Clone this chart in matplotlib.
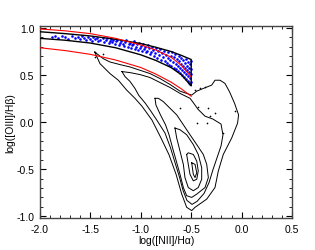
import matplotlib
matplotlib.use('Agg')
import matplotlib.pyplot as plt
from matplotlib.ticker import MultipleLocator, FormatStrFormatter

plt.rcParams['font.family'] = ['Liberation Sans', 'DejaVu Sans']
plt.rcParams['axes.unicode_minus'] = True

# demarcation curves
curve_x = [-2.0, -1.75, -1.5, -1.25, -1.0, -0.85, -0.7, -0.6, -0.5]
upper_black = [0.96, 0.94, 0.915, 0.88, 0.835, 0.795, 0.75, 0.71, 0.665]
lower_black = [0.89, 0.87, 0.84, 0.79, 0.715, 0.655, 0.58, 0.505, 0.385]
upper_red = [0.99, 0.97, 0.94, 0.89, 0.82, 0.765, 0.69, 0.605, 0.48]
lower_red = [0.79, 0.76, 0.72, 0.66, 0.58, 0.51, 0.425, 0.355, 0.275]

# selected objects inside the band
blue_x = [-1.88, -1.85, -1.82, -1.78, -1.75, -1.72, -1.68, -1.65, -1.62, -1.60, -1.58, -1.56,
          -1.54, -1.52, -1.50, -1.48, -1.47, -1.45, -1.43, -1.42, -1.40, -1.38, -1.37, -1.35,
          -1.34, -1.32, -1.31, -1.30, -1.29, -1.28,
          -1.26, -1.25, -1.24, -1.22, -1.21, -1.20, -1.18, -1.17, -1.16, -1.15, -1.13, -1.12,
          -1.11, -1.10, -1.09, -1.08, -1.07, -1.06, -1.05, -1.04, -1.03, -1.02, -1.01, -1.00,
          -0.99, -0.98,
          -0.97, -0.96, -0.95, -0.94, -0.93, -0.92, -0.91, -0.90, -0.89, -0.88, -0.87, -0.86,
          -0.85, -0.84, -0.83, -0.82, -0.81, -0.80, -0.79, -0.78, -0.77, -0.76, -0.75,
          -0.74, -0.73, -0.73, -0.72, -0.71, -0.70, -0.70, -0.69, -0.68, -0.67, -0.67, -0.66,
          -0.65, -0.65, -0.64, -0.63, -0.63, -0.62, -0.62, -0.61, -0.61, -0.60, -0.60, -0.59,
          -0.59, -0.58, -0.58, -0.57, -0.57, -0.56, -0.56, -0.55, -0.55, -0.55, -0.54, -0.54,
          -0.53, -0.53, -0.53, -0.52, -0.52, -0.52, -0.51, -0.51, -0.51, -0.50, -0.50, -0.50,
          -0.50]
blue_y = [0.90, 0.91, 0.895, 0.915, 0.90, 0.885, 0.91, 0.895, 0.905, 0.88, 0.91, 0.89,
          0.875, 0.90, 0.885, 0.865, 0.905, 0.88, 0.895, 0.86, 0.875, 0.89, 0.85, 0.87,
          0.89, 0.84, 0.865, 0.88, 0.85, 0.87,
          0.835, 0.86, 0.875, 0.82, 0.845, 0.865, 0.83, 0.81, 0.85, 0.87, 0.80, 0.825,
          0.845, 0.79, 0.815, 0.835, 0.86, 0.78, 0.80, 0.825, 0.77, 0.845, 0.79, 0.81,
          0.76, 0.835,
          0.775, 0.80, 0.74, 0.76, 0.82, 0.785, 0.72, 0.75, 0.80, 0.77, 0.70, 0.73,
          0.79, 0.68, 0.755, 0.71, 0.78, 0.665, 0.735, 0.69, 0.76, 0.65, 0.715,
          0.63, 0.68, 0.74, 0.61, 0.66, 0.70, 0.60, 0.75, 0.64, 0.58, 0.69, 0.72,
          0.56, 0.62, 0.67, 0.54, 0.60, 0.70, 0.65, 0.52, 0.58, 0.62, 0.68, 0.50,
          0.55, 0.60, 0.66, 0.48, 0.53, 0.58, 0.63, 0.46, 0.51, 0.67, 0.55, 0.60,
          0.44, 0.49, 0.64, 0.42, 0.53, 0.58, 0.40, 0.47, 0.62, 0.43, 0.51, 0.56,
          0.65]

# density contours of the galaxy sample, outermost first
c1_x = [-1.457, -1.405, -1.306, -1.223, -1.140, -1.060, -0.988, -0.889, -0.800, -0.720,
        -0.650, -0.594, -0.545, -0.495, -0.462, -0.346, -0.264, -0.231, -0.182, -0.098,
        -0.040, -0.030, -0.070, -0.120, -0.165, -0.214, -0.264, -0.297, -0.363, -0.445,
        -0.495, -0.611, -0.710, -0.810, -0.909, -1.008, -1.107, -1.206, -1.306, -1.372,
        -1.457]
c1_y = [0.744, 0.621, 0.516, 0.445, 0.340, 0.255, 0.168, 0.021, -0.168, -0.347,
        -0.555, -0.765, -0.905, -0.940, -0.905, -0.818, -0.695, -0.519, -0.344, -0.168,
        -0.011, 0.077, 0.200, 0.323, 0.411, 0.445, 0.445, 0.393, 0.365, 0.329,
        0.287, 0.329, 0.400, 0.463, 0.516, 0.551, 0.586, 0.611, 0.639, 0.674,
        0.744]
c2_x = [-1.187, -1.157, -1.107, -1.058, -1.020, -0.955, -0.900, -0.835, -0.760, -0.705,
        -0.660, -0.615, -0.581, -0.542, -0.492, -0.442, -0.373, -0.323, -0.284, -0.244,
        -0.204, -0.185, -0.204, -0.284, -0.363, -0.433, -0.482, -0.512, -0.611, -0.710,
        -0.810, -0.909, -1.008, -1.107, -1.187]
c2_y = [0.537, 0.484, 0.432, 0.358, 0.284, 0.200, 0.116, 0.011, -0.116, -0.274,
        -0.432, -0.589, -0.726, -0.832, -0.874, -0.842, -0.758, -0.642, -0.505, -0.379,
        -0.253, -0.137, -0.021, 0.032, 0.063, 0.137, 0.211, 0.253, 0.305, 0.368,
        0.421, 0.474, 0.505, 0.526, 0.537]
c3_x = [-0.859, -0.850, -0.805, -0.755, -0.720, -0.685, -0.648, -0.611, -0.578, -0.545,
        -0.495, -0.445, -0.363, -0.330, -0.346, -0.380, -0.445, -0.512, -0.578, -0.644,
        -0.710, -0.777, -0.826, -0.859]
c3_y = [0.253, 0.182, 0.077, -0.028, -0.134, -0.274, -0.414, -0.555, -0.695, -0.782,
        -0.800, -0.765, -0.695, -0.589, -0.449, -0.344, -0.239, -0.134, -0.028, 0.077,
        0.147, 0.218, 0.253, 0.253]
c4_x = [-0.661, -0.644, -0.611, -0.578, -0.562, -0.529, -0.479, -0.430, -0.396, -0.396,
        -0.430, -0.479, -0.545, -0.611, -0.661]
c4_y = [-0.063, -0.168, -0.308, -0.449, -0.589, -0.695, -0.729, -0.695, -0.607, -0.484,
        -0.344, -0.239, -0.134, -0.081, -0.063]
c5_x = [-0.545, -0.529, -0.512, -0.479, -0.445, -0.430, -0.445, -0.479, -0.529, -0.545]
c5_y = [-0.344, -0.449, -0.555, -0.624, -0.607, -0.519, -0.414, -0.344, -0.326, -0.344]
c6_x = [-0.495, -0.479, -0.462, -0.445, -0.462, -0.495]
c6_y = [-0.432, -0.555, -0.589, -0.537, -0.449, -0.432]

# isolated outliers outside the contours
dot_x = [-0.462, -0.413, -0.363, -0.430, -0.330, -0.313, -0.264, -0.182, -0.065, -0.611,
         -0.445, -0.346, -1.454, -1.454, -1.375]
dot_y = [0.340, 0.365, 0.376, 0.165, 0.147, 0.060, 0.095, -0.116, 0.113, 0.147,
         -0.011, -0.011, 0.747, 0.695, 0.726]

fig = plt.figure(figsize=(3.15, 2.51), dpi=100)
ax = fig.add_axes([0.127, 0.127, 0.8, 0.765])

for cx, cy in [(c1_x, c1_y), (c2_x, c2_y), (c3_x, c3_y), (c4_x, c4_y), (c5_x, c5_y), (c6_x, c6_y)]:
    ax.plot(cx, cy, color='black', lw=0.7)
ax.scatter(dot_x, dot_y, s=1.5, color='black', marker='o', linewidths=0)

ax.scatter(blue_x, blue_y, s=3.5, color='blue', marker='o', linewidths=0, zorder=3)

band_x = curve_x + curve_x[::-1]
band_y = upper_black + lower_black[::-1]
ax.plot(band_x, band_y, color='black', lw=1.0, zorder=4)
ax.plot(curve_x, upper_red, color='red', lw=0.8, zorder=4)
ax.plot(curve_x, lower_red, color='red', lw=0.8, zorder=4)

ax.set_xlim(-2.0, 0.5)
ax.set_ylim(-1.02, 1.02)
ax.xaxis.set_major_locator(MultipleLocator(0.5))
ax.xaxis.set_minor_locator(MultipleLocator(0.1))
ax.yaxis.set_major_locator(MultipleLocator(0.5))
ax.yaxis.set_minor_locator(MultipleLocator(0.1))
ax.tick_params(which='both', direction='in', top=True, right=True, labelsize=7.5, pad=4)
ax.tick_params(which='major', length=4, width=0.8)
ax.tick_params(which='minor', length=2, width=0.6)
ax.xaxis.set_major_formatter(FormatStrFormatter('%.1f'))
ax.yaxis.set_major_formatter(FormatStrFormatter('%.1f'))
for sp in ax.spines.values():
    sp.set_linewidth(1.0)
    sp.set_color('#444444')

ax.set_xlabel('log([NII]/H\u03b1)', fontsize=7.5, labelpad=1)
ax.set_ylabel('log([OIII]/H\u03b2)', fontsize=7.5, labelpad=1)

fig.savefig('out.png', dpi=100)
